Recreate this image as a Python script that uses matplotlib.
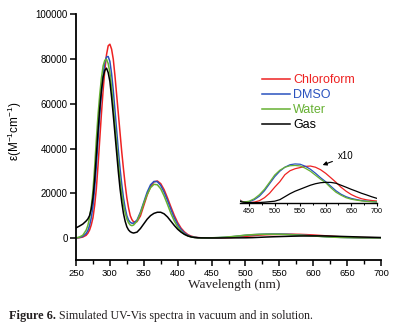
import matplotlib
matplotlib.use('Agg')
import matplotlib.pyplot as plt
from matplotlib.ticker import MultipleLocator

plt.rcParams['font.family'] = ['Liberation Sans', 'DejaVu Sans']
plt.rcParams['mathtext.default'] = 'regular'

# wavelengths (nm): finer steps across the main band, 10 nm steps past 450
wl = [250, 255, 260, 265, 267.5, 270, 272.5, 275, 277.5, 280,
      282.5, 285, 287.5, 290, 292.5, 295, 297.5, 300, 302.5, 305,
      307.5, 310, 312.5, 315, 317.5, 320, 322.5, 325, 327.5, 330,
      332.5, 335, 340, 345,
      350, 355, 360, 365, 370, 375, 380, 385, 390, 395,
      400, 405, 410, 415, 420, 425, 430, 435, 440, 445,
      450, 460, 470, 480, 490, 500, 510, 520, 530, 540,
      550, 560, 570, 580, 590, 600, 610, 620, 630, 640,
      650, 660, 670, 680, 690, 700]

chloroform = [0, 100, 400, 1200, 2100, 3500, 5800, 9000, 14500, 22000,
              32500, 44000, 55500, 66000, 75000, 82000, 86000, 86700, 84500, 80000,
              72500, 64000, 55500, 47000, 38500, 31000, 24000, 18000, 13500, 10000,
              8200, 7200, 7300, 9800,
              14500, 19200, 23000, 25100, 25500, 24300, 21600, 17900, 13900, 10100,
              6900, 4400, 2700, 1500, 800, 400, 150, 70, 30, 20,
              14, 27, 90, 226, 429, 701, 949, 1266, 1446, 1537,
              1591, 1641, 1659, 1605, 1492, 1329, 1130, 927, 701, 520,
              371, 262, 181, 131, 99, 77]

dmso = [0, 200, 700, 2000, 3300, 5500, 9000, 14000, 22000, 32000,
        44000, 55000, 65000, 73000, 78500, 81000, 81200, 79000, 73500, 66000,
        57000, 48000, 39000, 31000, 24000, 18000, 13500, 10000, 8000, 7000,
        6600, 6600, 8000, 11500,
        16000, 20500, 23800, 25300, 25200, 23500, 20500, 16800, 12800, 9000,
        6000, 3800, 2200, 1200, 600, 300, 130, 60, 30, 30,
        45, 136, 294, 542, 859, 1175, 1424, 1605, 1718, 1754,
        1740, 1650, 1514, 1333, 1130, 949, 746, 542, 384, 271,
        194, 145, 99, 72, 54, 36]

water = [0, 400, 1200, 3500, 5600, 9000, 14000, 21000, 31500, 44000,
         55000, 64000, 71500, 77000, 79500, 80000, 78000, 74000, 67500, 59000,
         50500, 42000, 33500, 26000, 20000, 15000, 11300, 8500, 6800, 5800,
         5500, 5800, 7500, 11000,
         15500, 19500, 22500, 24000, 23800, 22000, 18800, 15000, 11000, 7600,
         4900, 3000, 1700, 900, 450, 200, 100, 50, 40, 50,
         68, 181, 362, 610, 927, 1252, 1469, 1605, 1672, 1686,
         1663, 1559, 1424, 1243, 1062, 904, 678, 475, 339, 226,
         158, 118, 81, 59, 45, 32]

gas = [4500, 5300, 6200, 7600, 8500, 10000, 13000, 18000, 26000, 37000,
       48000, 58000, 66000, 72000, 75000, 76000, 74000, 70000, 63000, 55000,
       46500, 38000, 29500, 22000, 16000, 11000, 7500, 5000, 3600, 2800,
       2400, 2200, 2600, 4200,
       6300, 8400, 10000, 11000, 11500, 11500, 10800, 9400, 7500, 5600,
       3900, 2600, 1600, 900, 450, 200, 80, 40, 20, 10,
       5, 5, 9, 23, 45, 68, 136, 271, 407, 520,
       610, 701, 791, 859, 904, 922, 918, 881, 791, 701,
       606, 520, 429, 353, 271, 199]

series = [('Chloroform', chloroform, '#ee2222'),
          ('DMSO', dmso, '#2a52be'),
          ('Water', water, '#66b032'),
          ('Gas', gas, '#000000')]

W, H = 401, 328
fig = plt.figure(figsize=(W / 100, H / 100), dpi=100)

ax = fig.add_axes([76 / W, 1 - 260.3 / H, 305 / W, 245.8 / H])
for name, vals, col in series:
    ax.plot(wl, vals, color=col, lw=1.1, label=name)
ax.set_xlim(250, 700)
ax.set_ylim(-10000, 100000)
ax.set_yticks([0, 20000, 40000, 60000, 80000, 100000])
ax.xaxis.set_major_locator(MultipleLocator(50))
ax.xaxis.set_minor_locator(MultipleLocator(25))
for s in ['top', 'right']:
    ax.spines[s].set_visible(False)
for s in ['left', 'bottom']:
    ax.spines[s].set_linewidth(1.3)
ax.tick_params(axis='y', which='major', direction='out', length=4, width=1.1, labelsize=7, pad=2)
ax.tick_params(axis='x', which='major', direction='out', length=4, width=1.1, labelsize=6.8, pad=2)
ax.tick_params(axis='x', which='minor', direction='out', length=3, width=1.0)

leg = ax.legend(loc='upper left', bbox_to_anchor=(261.7 / W, 1 - 74 / H),
                bbox_transform=fig.transFigure, frameon=False, fontsize=9,
                handlelength=2.25, handletextpad=0.25, borderpad=0,
                borderaxespad=0, labelspacing=0.25)
for txt, (name, vals, col) in zip(leg.get_texts(), series):
    txt.set_color(col)

# inset (x10)
ins = fig.add_axes([240 / W, 1 - 202.7 / H, 136.7 / W, 44.2 / H])
ins.patch.set_alpha(0)
for name, vals, col in series:
    ins.plot(wl, [v * 10 for v in vals], color=col, lw=0.9)
ins.set_xlim(432, 700)
ins.set_ylim(0, 20000)
ins.xaxis.set_major_locator(MultipleLocator(50))
ins.xaxis.set_minor_locator(MultipleLocator(25))
ins.set_yticks([])
for s in ['top', 'right', 'left']:
    ins.spines[s].set_visible(False)
ins.spines['bottom'].set_linewidth(1.0)
ins.tick_params(axis='x', which='major', direction='out', length=2.5, width=0.8, labelsize=5.2, pad=1)
ins.tick_params(axis='x', which='minor', direction='out', length=1.5, width=0.7)

fig.text(338 / W, 1 - 156 / H, 'x10', fontsize=7, ha='left', va='center')
ax.annotate('', xy=(320 / W, 1 - 166 / H), xycoords='figure fraction',
            xytext=(335 / W, 1 - 160.5 / H), textcoords='figure fraction',
            arrowprops=dict(arrowstyle='-|>', color='k', lw=0.8, mutation_scale=6))

fig.text(15 / W, 1 - 131.5 / H, 'ε(M$^{-1}$cm$^{-1}$)', rotation=90,
         ha='center', va='center', fontsize=8.5)
fig.text(234 / W, 1 - 285 / H, 'Wavelength (nm)', ha='center', va='center',
         fontsize=9.5, family='Liberation Serif', color='#231f20')

fig.text(9 / W, 1 - 315.7 / H, 'Figure 6.', ha='left', va='center',
         fontsize=8.8, family='Liberation Serif', weight='bold', color='#231f20')
fig.text(59 / W, 1 - 315.7 / H, 'Simulated UV-Vis spectra in vacuum and in solution.',
         ha='left', va='center', fontsize=8.6, family='Liberation Serif', color='#231f20')

fig.savefig('out.png', dpi=100)
